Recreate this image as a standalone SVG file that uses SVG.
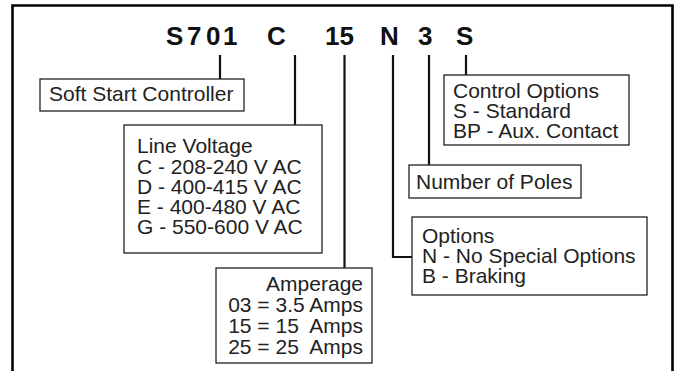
<svg xmlns="http://www.w3.org/2000/svg" width="675" height="371" viewBox="0 0 675 371">
<style>
.box{fill:#fff;stroke:#222;stroke-width:1.3}
.t{font-family:"Liberation Sans",Arial,sans-serif;font-size:21px;fill:#222;white-space:pre}
.title{font-family:"Liberation Sans",Arial,sans-serif;font-size:26px;font-weight:bold;fill:#111}
.c{fill:none;stroke:#111;stroke-width:2.2}
</style>
<rect width="675" height="371" fill="#fff"/>
<path d="M12.5,372 V5.5 H672.5 V372" fill="none" stroke="#000" stroke-width="2.6"/>
<text class="title" id="code" y="45"><tspan x="166">S</tspan><tspan x="187">7</tspan><tspan x="206">0</tspan><tspan x="223">1</tspan><tspan x="267">C</tspan><tspan x="325">15</tspan><tspan x="380">N</tspan><tspan x="418">3</tspan><tspan x="456">S</tspan></text>
<g id="connectors">
<path class="c" d="M220,55 V79"/>
<path class="c" d="M295,55 V125"/>
<path class="c" d="M344.5,55 V268"/>
<path class="c" d="M393,55 V257 H412"/>
<path class="c" d="M429,55 V165"/>
<path class="c" d="M466,55 V75"/>
</g>
<g id="soft-start">
<rect class="box" x="40" y="79" width="204" height="32"/>
<text class="t" x="49" y="101">Soft Start Controller</text>
</g>
<g id="line-voltage">
<rect class="box" x="124" y="125" width="198" height="128"/>
<text class="t" x="137" y="153">Line Voltage</text>
<text class="t" x="137" y="174">C - 208-240 V AC</text>
<text class="t" x="137" y="194">D - 400-415 V AC</text>
<text class="t" x="137" y="214">E - 400-480 V AC</text>
<text class="t" x="137" y="234">G - 550-600 V AC</text>
</g>
<g id="amperage">
<rect class="box" x="216" y="268" width="156" height="95"/>
<g text-anchor="end">
<text class="t" x="363" y="291">Amperage</text>
<text class="t" x="363" y="312">03 = 3.5 Amps</text>
<text class="t" x="363" y="333">15 = 15  Amps</text>
<text class="t" x="363" y="354">25 = 25  Amps</text>
</g>
</g>
<g id="options">
<rect class="box" x="412" y="217" width="235" height="78"/>
<text class="t" x="422" y="243">Options</text>
<text class="t" x="422" y="263">N - No Special Options</text>
<text class="t" x="422" y="283">B - Braking</text>
</g>
<g id="poles">
<rect class="box" x="409" y="165" width="172" height="33"/>
<text class="t" x="416" y="189">Number of Poles</text>
</g>
<g id="control-options">
<rect class="box" x="444" y="75" width="185" height="70"/>
<text class="t" x="453" y="98">Control Options</text>
<text class="t" x="453" y="118">S - Standard</text>
<text class="t" x="453" y="138">BP - Aux. Contact</text>
</g>
</svg>
